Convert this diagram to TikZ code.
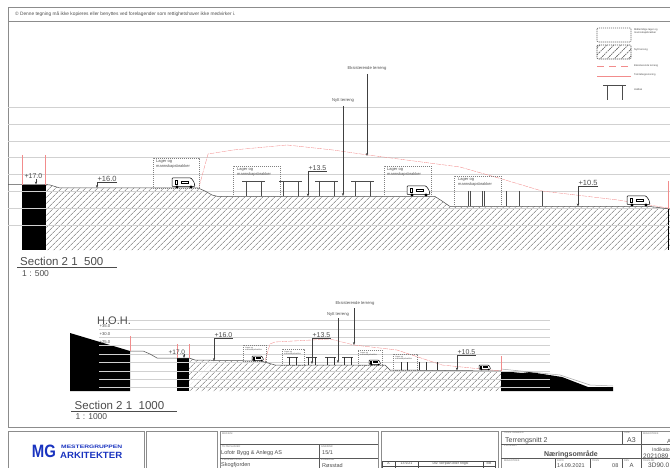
\documentclass[tikz,border=0pt]{standalone}
\usepackage{fontspec}
\setmainfont{Liberation Sans}
\usetikzlibrary{arrows.meta,patterns.meta}

\definecolor{gridgrey}{gray}{0.82}
\definecolor{framegrey}{gray}{0.55}
\definecolor{inkgrey}{gray}{0.3}
\definecolor{terrainred}{rgb}{0.95,0.55,0.55}
\definecolor{logoblue}{rgb}{0.1,0.2,0.75}

\begin{document}
\begin{tikzpicture}[%
  x=1pt, y=-1pt,
  >={Stealth[scale=0.6]},
  frameline/.style = {framegrey, line width=0.8pt},
  gridline/.style = {gridgrey, line width=0.9pt},
  ground/.style = {black!70, line width=0.5pt},
  hatched/.style = {pattern={Lines[angle=45,distance=4pt,line width=0.6pt]}, pattern color=black!60},
  existing/.style = {terrainred, line width=0.35pt, dash pattern=on 5pt off 1pt},
  boundary/.style = {terrainred, line width=0.7pt},
  leader/.style = {black!75, line width=0.45pt, ->},
  level/.style = {anchor=south west, inner sep=0.4pt, text=inkgrey, font=\fontsize{7}{8}\selectfont},
  note/.style = {inner sep=0pt, text=inkgrey, font=\fontsize{4.2}{5}\selectfont},
  barrack/.style = {draw=black!50, dash pattern=on 1.2pt off 0.8pt, line width=0.3pt, inner sep=0pt, anchor=north west, align=left},
  barracktext/.style = {inner sep=0pt, anchor=north west, align=left, text=inkgrey},
  caption/.style = {inner sep=0pt, anchor=west, text=black!55, font=\fontsize{2.5}{3}\selectfont},
  cell/.style = {inner sep=0pt, anchor=west, text=inkgrey, font=\fontsize{5.5}{6}\selectfont},
  sectiontitle/.style = {inner sep=0pt, anchor=west, text=inkgrey, font=\fontsize{11.5}{12}\selectfont},
  sectionscale/.style = {inner sep=0pt, anchor=west, text=inkgrey, font=\fontsize{8.5}{9}\selectfont},
  legendtext/.style = {inner sep=0pt, anchor=west, align=left, text=inkgrey, font=\fontsize{2.6}{3}\selectfont},
  truck/.pic = {
    \draw[black, line width=0.5pt, rounded corners=0.8pt, fill=white] (0,-1.5) -- (0,-10) -- (19,-10) -- (22,-6) -- (23,-1.5) -- cycle;
    \draw[black, line width=0.4pt] (3,-8) rectangle (5,-4) (9,-7) rectangle (16,-5);
    \fill[black] (5,-1) circle (1.7) (19,-1) circle (1.7);
  },
  hall/.pic = {
    \draw[black!70, line width=0.7pt] (0,0) -- (23,0);
    \draw[black!70, line width=1pt] (4,0) -- (4,15) (19,0) -- (19,15);
  },
  hallsmall/.pic = {
    \draw[black!70, line width=0.5pt] (0,0) -- (11,0);
    \draw[black!80, line width=0.9pt] (2,0) -- (2,8) (9,0) -- (9,8);
  },
]
  \clip (0,0) rectangle (670,468);
  \useasboundingbox (0,0) rectangle (670,468);

  % main frame
  \draw[frameline] (8,7) rectangle (675,427);
  \draw[frameline] (8,21) -- (675,21);
  \node[inner sep=0pt, anchor=west, text=inkgrey, font=\fontsize{4.8}{5}\selectfont] (copyright) at (15,14.5)
    {© Denne tegning må ikke kopieres eller benyttes ved forelagender som rettighetshaver ikke medvirker i.};

  % section 500
  \fill[hatched] (45,184) -- (50,185) -- (60,188) -- (198,188) -- (205,191) -- (212,195) -- (218,196.5)
    -- (435,196.5) -- (442,201) -- (450,206.5) -- (650,206.5) -- (670,209) -- (670,250) -- (45,250) -- cycle;
  \fill[black] (22,185) rectangle (45.5,250);
  \draw[black, line width=0.8pt] (668.5,209) -- (668.5,250);
  \foreach \ypos in {107,124,141,157,174,191,208,225}
    \draw[gridline] (8,\ypos) -- (670,\ypos);
  \draw[ground] (8,184.5) -- (45,184.5) -- (50,185) -- (60,188) -- (198,188) -- (205,191) -- (212,195) -- (218,196.5)
    -- (435,196.5) -- (442,201) -- (450,206.5) -- (650,206.5) -- (670,209);
  \draw[existing] (199,187) -- (208,154) -- (233,150) -- (287,145) -- (333,150) -- (368,155) -- (460,167)
    -- (502,179) -- (542,191) -- (618,200) -- (668,208);
  \draw[boundary] (22,155) -- (22,185) (45.5,155) -- (45.5,185) (668.5,181) -- (668.5,209);

  \node[barrack, minimum width=46pt, minimum height=30pt] (barrackA) at (153,158) {};
  \node[barrack, minimum width=47pt, minimum height=30pt] (barrackB) at (233,166) {};
  \node[barrack, minimum width=47pt, minimum height=30pt] (barrackC) at (384,166) {};
  \node[barrack, minimum width=47pt, minimum height=30pt] (barrackD) at (454,176) {};
  \foreach \xpos/\ypos in {156/159.5, 237/167.5, 387/167.5, 458/177.5}
    \node[barracktext, font=\fontsize{4}{5}\selectfont] at (\xpos,\ypos) {Lager og\\mannskapsbrakker};

  \pic at (172,188) {truck};
  \pic at (407,196) {truck};
  \pic at (627,206) {truck};
  \foreach \xpos in {242,279,315,351}
    \pic at (\xpos,181) {hall};
  \foreach \xpos in {468,470,482,484,506,519,542}
    \draw[black!70, line width=0.8pt] (\xpos,191) -- (\xpos,206.5);

  \node[level] (levA) at (24,179) {+17.0};
  \coordinate (levAtip) at (36,184.5);
  \draw[leader] (36,179) -- (levAtip);
  \node[level, font=\fontsize{7.5}{8}\selectfont] (levB) at (97,182) {+16.0};
  \coordinate (levBtip) at (97,188);
  \draw[leader] (levB.south east) -- (levB.south west) -- (levBtip);
  \node[level] (levC) at (308,171) {+13.5};
  \coordinate (levCtip) at (308,196.5);
  \draw[leader] (levC.south east) -- (levC.south west) -- (levCtip);
  \node[level, font=\fontsize{7.5}{8}\selectfont] (levD) at (578,186) {+10.5};
  \coordinate (levDtip) at (578,206.5);
  \draw[leader] (levD.south east) -- (levD.south west) -- (levDtip);

  \node[note] (oldterrain) at (367,68) {Eksisterende terreng};
  \coordinate (oldterraintip) at (367,156);
  \draw[leader] (367,74) -- (oldterraintip);
  \node[note] (newterrain) at (343,100) {Nytt terreng};
  \coordinate (newterraintip) at (343,196);
  \draw[leader] (343,106) -- (newterraintip);

  \node[sectiontitle] (titleA) at (20,261) {Section 2 1\ \ 500};
  \draw[black!70, line width=0.8pt] (17,267) -- (117,267);
  \node[sectionscale] (scaleA) at (22,273.5) {1 : 500};

  % section 1000
  \fill[hatched] (189,358) -- (195,360) -- (260,361) -- (268,363) -- (275,365) -- (385,365) -- (390,370) -- (501,371)
    -- (501,391) -- (189,391) -- cycle;
  \fill[black] (70,333) -- (100,342) -- (130,351) -- (130,391) -- (70,391) -- cycle;
  \fill[black] (177,358) rectangle (189,391);
  \fill[black] (501,371) -- (522,373) -- (530,372) -- (562,377) -- (588,387) -- (613,387) -- (613,391) -- (501,391) -- cycle;
  \foreach \ypos in {320,329,337,345,354,362,371,379,387}
    \draw[gridline, line width=0.6pt] (99,\ypos) -- (550,\ypos);
  \draw[ground] (130,351) -- (143,351) -- (150,354) -- (157,358) -- (177,358) -- (189,358) -- (195,360) -- (260,361)
    -- (268,363) -- (275,365) -- (385,365) -- (390,370) -- (501,371);
  \draw[black!35, line width=0.5pt] (501,369) -- (560,375) -- (590,385) -- (613,386);
  \draw[existing] (265,361) -- (270,344) -- (275,342) -- (330,339) -- (354,345) -- (397,350) -- (442,365) -- (501,371);
  \draw[boundary, line width=0.6pt] (130,336) -- (130,351) (177,344) -- (177,358) (189,344) -- (189,358) (501,356) -- (501,371);

  \node[barrack, minimum width=23pt, minimum height=16pt] (barrackE) at (243,345) {};
  \node[barrack, minimum width=22pt, minimum height=16pt] (barrackF) at (282,349) {};
  \node[barrack, minimum width=24pt, minimum height=15pt] (barrackG) at (358,350) {};
  \node[barrack, minimum width=24pt, minimum height=16pt] (barrackH) at (393,354) {};
  \foreach \xpos/\ypos in {245/346.5, 284/350.5, 360/351.5, 395/355.5}
    \node[barracktext, font=\fontsize{2}{2.5}\selectfont] at (\xpos,\ypos) {Lager og\\mannskapsbrakker};

  \pic[scale=0.5] at (252,361) {truck};
  \pic[scale=0.5] at (369,365) {truck};
  \pic[scale=0.5] at (479,370) {truck};
  \foreach \xpos in {287,306,325,342}
    \pic at (\xpos,357) {hallsmall};
  \foreach \xpos in {401,407,419,426,437}
    \draw[black!80, line width=0.8pt] (\xpos,362) -- (\xpos,370);

  \node[sectiontitle, font=\fontsize{11}{12}\selectfont] (hoh) at (97,321) {H.O.H.};
  \node[note] (heightA) at (105,326.5) {+35.0};
  \node[note] (heightB) at (105,334) {+30.0};
  \node[note] (heightC) at (105,342) {+25.0};

  \node[level, font=\fontsize{6.5}{7}\selectfont] (levE) at (168,355.5) {+17.0};
  \coordinate (levEtip) at (184,358);
  \draw[leader] (184,354) -- (levEtip);
  \node[level] (levF) at (214,338) {+16.0};
  \coordinate (levFtip) at (214,361);
  \draw[leader] (levF.south east) -- (levF.south west) -- (levFtip);
  \node[level] (levG) at (312,338.5) {+13.5};
  \coordinate (levGtip) at (312,364);
  \draw[leader] (levG.south east) -- (levG.south west) -- (levGtip);
  \node[level] (levH) at (457,355) {+10.5};
  \coordinate (levHtip) at (457,370.5);
  \draw[leader] (levH.south east) -- (levH.south west) -- (levHtip);

  \node[note] (oldterrainB) at (355,303) {Eksisterende terreng};
  \coordinate (oldterrainBtip) at (354,345);
  \draw[leader] (354,308) -- (oldterrainBtip);
  \node[note] (newterrainB) at (338,314) {Nytt terreng};
  \coordinate (newterrainBtip) at (338,363);
  \draw[leader] (338,318) -- (newterrainBtip);

  \node[sectiontitle] (titleB) at (74.5,405) {Section 2 1\ \ 1000};
  \draw[black!70, line width=0.8pt] (71,411) -- (177,411);
  \node[sectionscale] (scaleB) at (75.5,417) {1 : 1000};

  % legend
  \draw[black!60, dash pattern=on 1.2pt off 0.8pt, line width=0.6pt, rounded corners=1pt] (597,28) rectangle (631,42);
  \draw[black!70, dash pattern=on 1.2pt off 0.8pt, line width=0.6pt, rounded corners=1pt, pattern={Lines[angle=45,distance=5pt,line width=0.7pt]}, pattern color=black!60] (597,45) rectangle (631,59);
  \draw[color=terrainred, line width=1pt, dash pattern=on 7pt off 5pt] (597,67) -- (631,67);
  \draw[color=terrainred, line width=1pt] (597,77) -- (631,77);
  \pic at (603,85) {hall};
  \node[legendtext] (legendbarrack) at (634,31.5) {Midlertidige lager og\\mannskapsbrakker};
  \node[legendtext] (legendnew) at (634,49.5) {Nytt terreng};
  \node[legendtext] (legendold) at (634,66) {Eksisterende terreng};
  \node[legendtext] (legendline) at (634,75) {Tomtebegrensning};
  \node[legendtext] (legendhall) at (634,89.5) {Halltak};

  % title block
  \draw[frameline] (8,431) rectangle (144,475);
  \draw[frameline] (146,431) rectangle (217,475);
  \draw[frameline] (220,431) rectangle (378,475);
  \draw[frameline] (381,431) rectangle (498,475);
  \draw[frameline] (501,431) rectangle (675,475);

  \node[inner sep=0pt, text=logoblue] (logomark) at (44,451.5) {\resizebox{24pt}{12.5pt}{\bfseries MG}};
  \node[inner sep=0pt, anchor=west, text=logoblue] (logotop) at (61,446.5) {\resizebox{61pt}{3.4pt}{\bfseries MESTERGRUPPEN}};
  \node[inner sep=0pt, anchor=west, text=logoblue] (logobottom) at (60,455.5) {\resizebox{62pt}{6.2pt}{\bfseries ARKITEKTER}};

  \draw[black!65, line width=0.5pt] (220,444.5) -- (378,444.5) (220,458) -- (378,458) (319,444.5) -- (319,468);
  \node[caption] (capA) at (222,433.5) {MEDIUM};
  \node[caption] (capB) at (222,446.5) {TILTAKSHAVER};
  \node[caption] (capC) at (321,446.5) {GNR/BNR};
  \node[caption] (capD) at (222,459.5) {PROSJEKTSTED};
  \node[caption] (capE) at (321,459.5) {KOMMUNE};
  \node[cell] (owner) at (221,453) {Lofotr Bygg \& Anlegg AS};
  \node[cell] (parcel) at (322,453) {15/1};
  \node[cell] (place) at (221,465.5) {Skogfjorden};
  \node[cell] (town) at (322,465.5) {Røsstad};

  \draw[black!70, line width=0.4pt] (382,461) -- (495,461) (382,466) -- (495,466);
  \foreach \xpos in {382,395,418,483,495}
    \draw[black!70, line width=0.4pt] (\xpos,461) -- (\xpos,468);
  \node[inner sep=0pt, text=inkgrey, font=\fontsize{3.5}{4}\selectfont] (revA) at (388.5,463.5) {A};
  \node[inner sep=0pt, text=inkgrey, font=\fontsize{3.5}{4}\selectfont] (revB) at (406.5,463.5) {13.9.21};
  \node[inner sep=0pt, text=inkgrey, font=\fontsize{3.5}{4}\selectfont] (revC) at (450.5,463.5) {Div. terrplan eller ringsl};
  \node[inner sep=0pt, text=inkgrey, font=\fontsize{3.5}{4}\selectfont] (revD) at (489,463.5) {BB};

  \draw[black!65, line width=0.5pt] (501,444) -- (641,444) (501,458.5) -- (670,458.5) (641,444.5) -- (670,444.5)
    (622,431) -- (622,444) (641,431) -- (641,468) (555,458.5) -- (555,468) (590,458.5) -- (590,468) (622,458.5) -- (622,468);
  \node[caption] (capF) at (504,433) {TEGN. INNHOLD};
  \node[cell, font=\fontsize{7}{8}\selectfont] (sheet) at (505,441) {Terrengsnitt 2};
  \node[caption] (capG) at (624,433) {SIZE};
  \node[inner sep=0pt, text=inkgrey, font=\fontsize{7}{8}\selectfont] (sheetsize) at (631.5,440.5) {A3};
  \node[caption] (capH) at (643,433) {MÅLESTOKK};
  \node[cell, font=\fontsize{6}{7}\selectfont] (sheetscale) at (667,441) {A};
  \node[caption] (capI) at (504,446) {PROSJEKT};
  \node[inner sep=0pt, text=inkgrey, font=\bfseries\fontsize{7}{8}\selectfont] (project) at (571,454) {Næringsområde};
  \node[cell, font=\fontsize{5}{6}\selectfont] (indic) at (652,449.5) {Indikator};
  \node[cell, font=\fontsize{6.5}{7}\selectfont] (projectno) at (643,456.5) {2021089};
  \node[caption] (capJ) at (504,460.5) {MÅLESTOKK};
  \node[caption] (capK) at (557,460.5) {DATO};
  \node[caption] (capL) at (592,460.5) {TEGN};
  \node[caption] (capM) at (624,460.5) {REV};
  \node[caption] (capN) at (643,460.5) {TEGN.NR};
  \node[cell] (date) at (557,466) {14.09.2021};
  \node[cell] (draftsman) at (612,466) {08};
  \node[inner sep=0pt, text=inkgrey, font=\fontsize{6}{7}\selectfont] (rev) at (631.5,465.5) {A};
  \node[cell, font=\fontsize{6.5}{7}\selectfont] (drawno) at (648,465.5) {3D90.0};
\end{tikzpicture}
\end{document}
